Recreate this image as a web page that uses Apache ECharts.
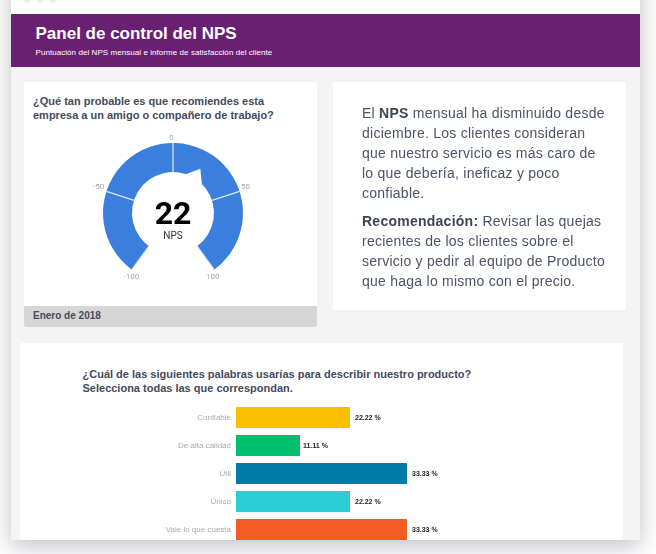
<!DOCTYPE html>
<html><head><meta charset="utf-8">
<script src="https://cdn.jsdelivr.net/npm/echarts@6/dist/echarts.min.js"></script>
<style>
html,body{margin:0;padding:0;background:#fff;width:656px;height:554px;overflow:hidden;font-family:"Liberation Sans",Arial,sans-serif}
#page{position:absolute;inset:0;overflow:hidden;filter:blur(.35px)}
#win{position:absolute;left:11px;top:-30px;width:629px;height:569.5px;background:#f4f4f4;box-shadow:0 6px 22px rgba(40,45,70,.3)}
#top{position:absolute;left:11px;top:0;width:629px;height:14px;background:#fff}
.dot{position:absolute;top:-4px;width:7px;height:7px;border-radius:50%;background:#eeeeee}
#hdr{position:absolute;left:11px;top:14px;width:629px;height:52.5px;background:#692073}
#hdr h1{position:absolute;left:24.5px;top:8.5px;margin:0;font-size:17px;line-height:22px;font-weight:700;color:#fff}
#hdr p{position:absolute;left:24.5px;top:32.5px;margin:0;font-size:8px;line-height:12px;color:#fff;letter-spacing:.06px}
.panel{position:absolute;background:#fff;border-radius:2px}
#p1{left:24px;top:82px;width:293px;height:245px}
#p1foot{position:absolute;left:0;right:0;bottom:0;height:21px;background:#d6d6d6;border-radius:0 0 2px 2px;color:#434a5e;font-size:10px;font-weight:700;line-height:20px;padding-left:9px}
#q1{position:absolute;left:9px;top:12px;font-size:11px;line-height:14px;font-weight:700;color:#434a5e}
#p2{left:333px;top:82px;width:293px;height:228px;color:#4c5368;font-size:14px;line-height:20px;letter-spacing:.25px}
#p2 b{color:#3e4559}
#p2 p{position:absolute;left:29px;margin:0;white-space:nowrap}
#p3{left:20px;top:343px;width:603px;height:197px}
#q2{position:absolute;left:62.5px;top:24px;font-size:11px;line-height:14px;font-weight:700;color:#434a5e;white-space:nowrap}
#c{position:absolute;left:0;top:0;width:656px;height:554px}
</style></head><body>
<div id="page">
<div id="win"></div>
<div id="top"><div class="dot" style="left:13px"></div><div class="dot" style="left:26px"></div><div class="dot" style="left:38px"></div></div>
<div id="hdr"><h1>Panel de control del NPS</h1><p>Puntuación del NPS mensual e informe de satisfacción del cliente</p></div>
<div class="panel" id="p1"><div id="q1">¿Qué tan probable es que recomiendes esta<br>empresa a un amigo o compañero de trabajo?</div><div id="p1foot">Enero de 2018</div></div>
<div class="panel" id="p2">
<p style="top:21px">El <b>NPS</b> mensual ha disminuido desde<br>diciembre. Los clientes consideran<br>que nuestro servicio es más caro de<br>lo que debería, ineficaz y poco<br>confiable.</p>
<p style="top:129px"><b>Recomendación:</b> Revisar las quejas<br>recientes de los clientes sobre el<br>servicio y pedir al equipo de Producto<br>que haga lo mismo con el precio.</p>
</div>
<div class="panel" id="p3"><div id="q2">¿Cuál de las siguientes palabras usarías para describir nuestro producto?<br>Selecciona todas las que correspondan.</div></div>
<div id="c"></div>
</div>
<script>
const npsValue = 22;
const npsLabel = 'NPS';
const categories = ['Confiable','De alta calidad','Útil','Único','Vale lo que cuesta'];
const barLengths = [22.22,12.47,33.33,22.22,33.33];
const barLabels = ['22.22 %','11.11 %','33.33 %','22.22 %','33.33 %'];
const barColors = ['#fac000','#00c06e','#007cab','#2bcdd5','#f35c25'];

const chart = echarts.init(document.getElementById('c'), null, {width:656,height:554});
chart.setOption({
  animation:false,
  grid:{left:236,top:403.5,width:205.2,height:140},
  xAxis:{type:'value',min:0,max:40,show:false},
  yAxis:{type:'category',inverse:true,data:categories,
    axisLine:{show:false},axisTick:{show:false},
    axisLabel:{color:'#a9a9a9',fontSize:8,fontFamily:'Liberation Sans',margin:5,padding:[3,0,0,0]}},
  series:[
    {type:'bar',barWidth:21,
     data:barLengths.map((v,i)=>({value:v,itemStyle:{color:barColors[i]},label:i===1?{distance:3}:{}})),
     label:{show:true,position:'right',distance:5,offset:[0,1],color:'#222',fontSize:7,fontWeight:'bold',fontFamily:'Liberation Sans',
       formatter:p=>barLabels[p.dataIndex]}},
    {type:'gauge',center:[173,213],radius:70,min:-100,max:100,startAngle:234,endAngle:-54,splitNumber:4,
     axisLine:{lineStyle:{width:29,color:[[1,'#3a7fde']]}},
     splitLine:{distance:-29,length:29,lineStyle:{color:'#dfe9f7',width:1.2}},
     axisTick:{show:false},
     axisLabel:{distance:-14,padding:[5,3,0,0],color:'#aaaaaa',fontSize:8,fontFamily:'Roboto'},
     pointer:{icon:'triangle',length:52,width:80,showAbove:false,itemStyle:{color:'#fff'}},
     anchor:{show:false},
     title:{offsetCenter:[0,23],fontSize:10,color:'#333',fontFamily:'Roboto'},
     detail:{offsetCenter:[0,3],fontSize:32,fontWeight:'bold',color:'#000',fontFamily:'Roboto',formatter:'{value}'},
     data:[{value:npsValue,name:npsLabel}]}
  ]
});
</script>
</body></html>
